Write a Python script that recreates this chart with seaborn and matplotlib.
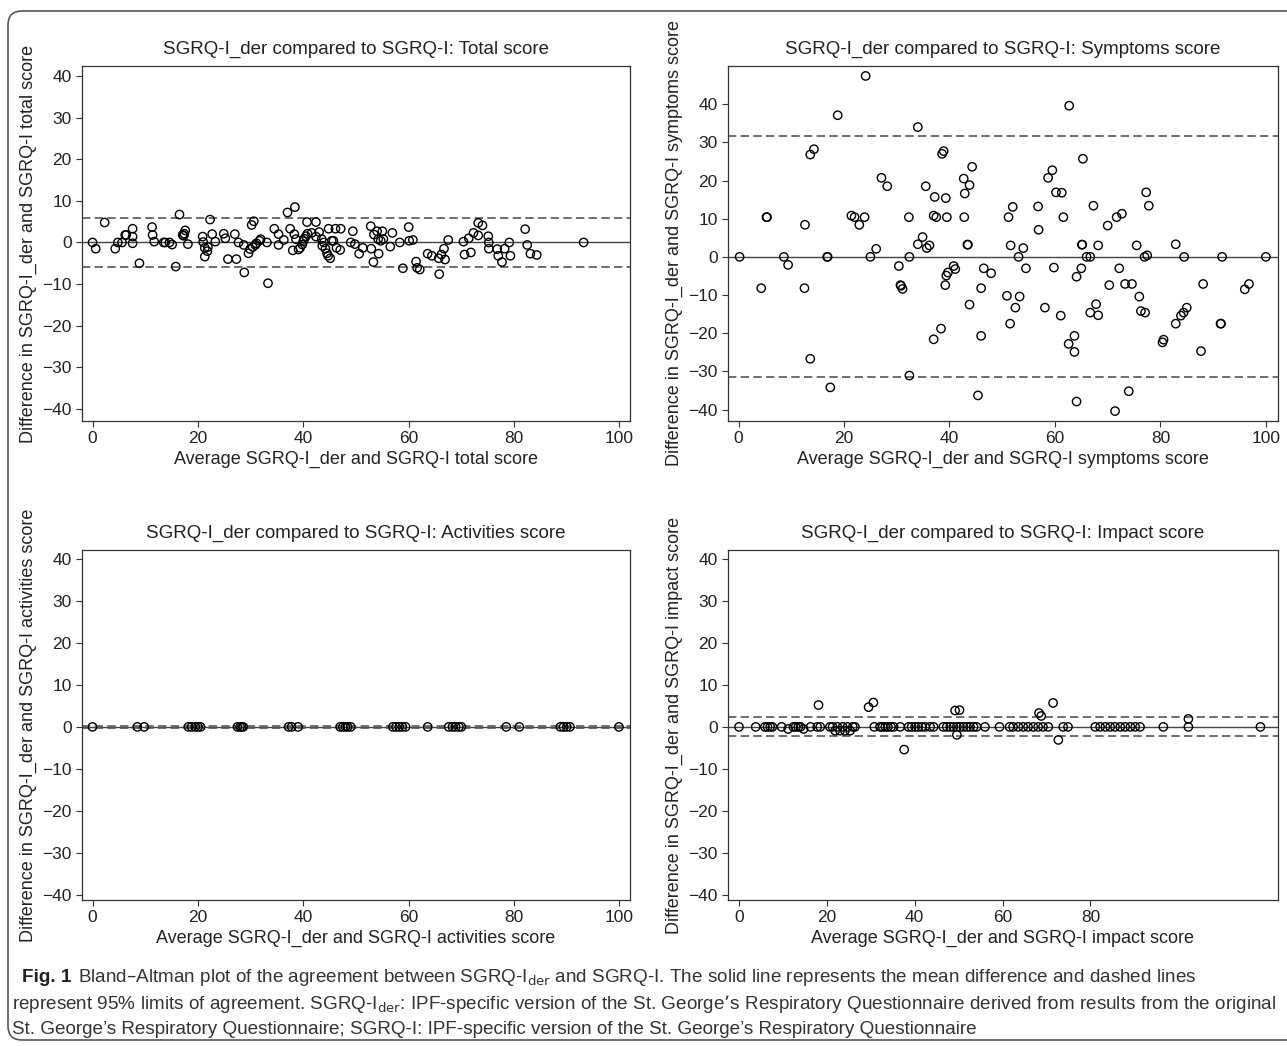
import numpy as np
import pandas as pd
import seaborn as sns
import matplotlib
matplotlib.use("Agg")
import matplotlib.pyplot as plt
from matplotlib.patches import FancyBboxPatch
from matplotlib.transforms import IdentityTransform

# ---------------- data ----------------
total_x = [0.0, 0.6, 2.3, 4.3, 4.8, 5.6, 6.2, 6.4, 7.6, 7.6, 7.6, 8.9, 11.3, 11.4, 11.7,
           13.5, 13.8, 14.6, 15.1, 15.8, 16.5, 17.1, 17.4, 17.6, 17.3, 18.1, 20.9, 21.0,
           21.3, 21.9, 21.8, 21.3, 22.3, 22.7, 23.3, 24.9, 25.2, 25.7, 27.0, 27.3, 27.7,
           28.7, 28.8, 29.6, 29.9, 30.4, 30.9, 31.1, 31.7, 31.9, 30.2, 30.6, 33.1, 33.3,
           34.5, 35.3, 35.3, 36.3, 37.0, 38.4, 37.5, 38.0, 38.3, 38.6, 39.1, 39.4, 39.8,
           40.0, 40.2, 40.5, 40.8, 40.7, 41.6, 42.4, 42.4, 43.0, 43.5, 43.6, 43.9, 44.2,
           44.5, 44.7, 44.8, 45.1, 45.4, 45.7, 46.1, 46.3, 47.0, 47.1,
           49.0, 49.4, 49.8, 50.6, 51.3, 52.8, 52.9, 53.3, 53.4, 54.0, 54.2, 54.3, 54.7,
           55.0, 55.2, 56.5, 56.9, 58.3, 58.9, 60.0, 60.1, 60.8, 61.4, 61.6, 62.1, 63.6,
           64.4, 65.7, 65.8, 66.2, 66.7, 66.9, 67.5, 70.4, 70.6, 71.4, 71.8, 72.3, 73.2,
           73.2, 74.0, 75.1, 75.2, 75.2, 76.8, 77.0, 77.7, 78.2, 79.1, 79.3, 82.1, 82.5,
           83.1, 84.3, 93.2]
total_y = [0.0, -1.5, 4.8, -1.5, 0.0, 0.0, 1.8, 1.8, 3.3, 1.4, -0.2, -5.0, 3.7, 1.8, 0.2,
           0.0, 0.0, 0.0, -0.5, -5.8, 6.7, 1.8, 2.1, 2.9, 1.6, -0.4, 1.4, 0.1,
           -1.3, -1.1, -2.1, -3.4, 5.5, 2.0, 0.2, 2.1, 1.0, -4.0, 2.0, -4.0, 0.0,
           -0.6, -7.2, -2.6, -1.6, -1.1, -0.6, -0.2, 0.4, 0.8, 4.2, 5.1, 0.0, -9.8,
           3.3, 2.0, -0.6, 0.6, 7.2, 8.5, 3.3, -1.9, 2.0, 0.8, -1.7, -1.3, -0.5,
           0.3, 0.9, 1.5, 2.1, 4.9, 2.3, 1.4, 4.9, 2.5, 0.8, -0.8, 0.0, -1.5,
           -2.6, -3.2, 3.3, -3.8, 0.4, 0.4, 3.3, -1.3, -1.8, 3.3,
           0.0, 2.7, -0.4, -2.7, -1.3, 3.9, -1.5, -4.7, 1.9, 2.7, 0.8, -2.7, 0.4,
           2.7, 0.8, -1.0, 2.3, 0.0, -6.2, 3.7, 0.4, 0.6, -4.6, -6.1, -6.5, -2.7,
           -3.2, -3.8, -7.6, -2.9, -1.5, -4.1, 0.6, 0.2, -2.9, 1.0, -2.4, 2.3, 4.7,
           1.7, 4.1, 1.5, 0.0, -1.5, -1.6, -3.2, -4.7, -1.5, 0.0, -3.2, 3.2, -0.6,
           -2.7, -3.0, 0.0]

symptoms_x = [24.1, 18.8, 34.0, 14.3, 13.6, 38.9, 38.6, 44.3, 27.1, 28.2, 35.5, 42.7, 43.8,
              42.9, 37.2, 39.3, 5.3, 5.4, 12.6, 21.4, 22.0, 23.9, 22.9, 32.3, 37.0, 37.5,
              39.5, 42.8, 34.9, 34.0, 36.2, 35.7, 43.4, 43.5, 26.1,
              62.7, 65.3, 59.5, 58.7, 60.2, 61.3, 77.3, 77.8, 52.0, 51.2, 56.8, 61.6, 67.3,
              72.7, 71.7, 70.0, 56.9, 51.6, 54.0, 65.1, 65.2, 68.2, 75.5, 82.9,
              0.2, 8.6, 9.4, 16.8, 16.9, 25.0, 30.4, 32.4, 4.3, 12.5, 30.7, 30.8, 31.1,
              40.8, 41.1, 39.7, 39.4, 39.2, 46.5, 47.9, 46.0, 43.8, 38.4, 37.0, 46.0,
              13.6, 32.4, 17.4, 45.4,
              53.1, 66.0, 66.7, 77.0, 77.5, 84.5, 91.7, 100.0, 54.5, 59.8, 65.0, 64.1,
              72.2, 70.3, 73.3, 74.6, 88.1, 96.0, 96.8, 50.9, 53.3, 52.5, 58.1, 61.1,
              67.8, 66.7, 68.2, 76.0, 76.3, 77.1, 85.0, 84.4, 83.9, 82.9, 91.4, 91.5,
              51.5, 63.7, 62.6, 63.7, 80.6, 80.4, 87.7, 74.0, 64.1, 71.4]
symptoms_y = [47.4, 37.1, 34.0, 28.2, 26.8, 27.7, 27.0, 23.6, 20.7, 18.5, 18.5, 20.5, 18.8,
              16.6, 15.7, 15.4, 10.4, 10.4, 8.4, 10.8, 10.4, 10.4, 8.4, 10.4, 10.8, 10.4,
              10.4, 10.4, 5.2, 3.3, 3.0, 2.3, 3.2, 3.2, 2.1,
              39.6, 25.7, 22.7, 20.7, 16.9, 16.8, 16.9, 13.4, 13.1, 10.4, 13.2, 10.4, 13.4,
              11.3, 10.4, 8.2, 7.1, 3.0, 2.3, 3.2, 3.2, 3.0, 3.0, 3.3,
              0.0, 0.0, -2.1, 0.0, 0.0, 0.0, -2.4, 0.0, -8.2, -8.2, -7.4, -7.6, -8.4,
              -2.4, -3.2, -4.1, -4.9, -7.4, -3.0, -4.3, -8.2, -12.5, -18.8, -21.6, -20.7,
              -26.7, -31.1, -34.2, -36.3,
              0.0, 0.0, 0.0, 0.0, 0.4, 0.0, 0.0, 0.0, -3.0, -2.8, -3.0, -5.2,
              -3.0, -7.4, -7.1, -7.1, -7.1, -8.5, -7.1, -10.2, -10.4, -13.3, -13.3, -15.4,
              -12.4, -14.6, -15.3, -10.4, -14.2, -14.6, -13.3, -14.6, -15.4, -17.5, -17.5, -17.5,
              -17.5, -20.7, -22.8, -24.9, -21.7, -22.4, -24.7, -35.2, -37.9, -40.4]

activities_x = [0.0, 8.5, 9.8, 18.2, 18.8, 19.5, 20.0, 20.5, 27.5, 28.0, 28.3, 28.6,
                37.2, 37.8, 39.0, 47.0, 47.5, 48.0, 48.4, 49.0, 57.0, 57.6, 58.2, 58.8,
                59.4, 63.6, 67.6, 68.3, 68.9, 69.5, 70.0, 78.5, 81.0, 88.8, 89.4, 90.0,
                90.6, 99.9]
activities_y = [0.0] * len(activities_x)

impact_x = [0.0, 3.8, 5.9, 6.5, 7.1, 7.6, 9.7, 12.4, 12.9, 13.5, 14.0, 16.3, 17.8, 18.5,
            20.7, 21.3, 22.4, 23.6, 24.7, 25.9, 26.4, 30.8, 32.1, 32.7, 33.3, 33.9, 34.6,
            35.2, 36.7, 38.6, 39.3, 40.1, 40.8, 41.6, 42.4, 43.5, 44.3, 46.5, 47.3, 48.1,
            48.8, 49.6, 50.3, 51.1, 51.9, 52.6, 53.4, 54.1, 56.0, 59.3, 61.6, 62.4, 63.6,
            64.7, 65.8, 67.0, 68.1, 69.2, 70.4, 73.8, 74.9, 81.1, 82.2, 83.4, 84.5, 85.6,
            86.8, 87.9, 89.1, 90.2, 91.3, 96.6, 102.3, 118.7,
            11.2, 14.7, 21.9, 23.0, 24.1, 25.3,
            18.1, 29.5, 30.6, 49.2, 50.2, 71.5, 68.3, 68.8, 102.3,
            49.6, 37.6, 72.7]
impact_y = [0.0] * 74 + [-0.5, -0.5, -0.9, -0.9, -0.9, -0.9,
                         5.2, 4.7, 5.8, 3.9, 4.0, 5.7, 3.3, 2.6, 1.9,
                         -1.9, -5.4, -3.1]

titles = ["SGRQ-I_der compared to SGRQ-I: Total score",
          "SGRQ-I_der compared to SGRQ-I: Symptoms score",
          "SGRQ-I_der compared to SGRQ-I: Activities score",
          "SGRQ-I_der compared to SGRQ-I: Impact score"]
score_names = ["total", "symptoms", "activities", "impact"]
mean_diff = [0.0, 0.0, 0.0, 0.0]
loa_upper = [5.9, 31.6, 0.15, 2.4]
loa_lower = [-5.8, -31.6, -0.15, -2.1]
y_ticks = [-40, -30, -20, -10, 0, 10, 20, 30, 40]
x_ticks = [[0, 20, 40, 60, 80, 100], [0, 20, 40, 60, 80, 100],
           [0, 20, 40, 60, 80, 100], [0, 20, 40, 60, 80]]
x_lims = [(-2, 102), (-2, 102.3), (-2, 102), (-2.5, 122.7)]
y_lims = [(-42.9, 42.4), (-43, 50), (-41.2, 42.1), (-41.2, 42.1)]

# ---------------- style ----------------
sns.set_theme(style="ticks")
plt.rcParams["font.family"] = ["Liberation Sans", "DejaVu Sans"]
plt.rcParams["axes.edgecolor"] = "#333333"
plt.rcParams["axes.linewidth"] = 0.9
plt.rcParams["xtick.color"] = "#333333"
plt.rcParams["ytick.color"] = "#333333"
plt.rcParams["xtick.labelcolor"] = "#222222"
plt.rcParams["ytick.labelcolor"] = "#222222"

fig = plt.figure(figsize=(12.87, 10.46), dpi=100)
W, H = 1287.0, 1046.0
boxes = [(82, 66, 630, 421), (728, 66, 1278, 421),
         (82, 550, 630, 900), (728, 550, 1278, 900)]

xs = [total_x, symptoms_x, activities_x, impact_x]
ys = [total_y, symptoms_y, activities_y, impact_y]

for i in range(4):
    l, t, r, b = boxes[i]
    ax = fig.add_axes([l / W, 1 - b / H, (r - l) / W, (b - t) / H])
    df = pd.DataFrame({"avg": xs[i], "diff": ys[i]})
    ax.axhline(mean_diff[i], color="#444444", lw=1.0, zorder=1)
    ax.axhline(loa_upper[i], color="#555555", lw=1.2, ls=(0, (5, 2.6)), zorder=1)
    ax.axhline(loa_lower[i], color="#555555", lw=1.2, ls=(0, (5, 2.6)), zorder=1)
    sns.scatterplot(data=df, x="avg", y="diff", ax=ax, marker="o", s=36,
                    facecolor="none", edgecolor="black", linewidth=1.0,
                    legend=False, zorder=3)
    ax.set_xlim(*x_lims[i])
    ax.set_ylim(*y_lims[i])
    ax.set_xticks(x_ticks[i])
    ax.set_yticks(y_ticks)
    ax.tick_params(axis="both", direction="out", length=4.5, width=0.8,
                   labelsize=12.5, pad=3)
    for sp in ax.spines.values():
        sp.set_visible(True)
    ax.set_title(titles[i], fontsize=13.5, color="#222222", pad=9)
    ax.set_xlabel(f"Average SGRQ-I_der and SGRQ-I {score_names[i]} score",
                  fontsize=13, color="#222222", labelpad=3)
    ax.set_ylabel(f"Difference in SGRQ-I_der and SGRQ-I {score_names[i]} score",
                  fontsize=13, color="#222222", labelpad=4)
    ax.grid(False)

# outer rounded frame
frame = FancyBboxPatch((8, 6), 1320, 1029, boxstyle="round,pad=0,rounding_size=14",
                       transform=IdentityTransform(), fill=False,
                       edgecolor="#555555", lw=1.2)
fig.patches.append(frame)

cap_font = ["Liberation Sans", "DejaVu Sans"]
cap_col = "#333333"
cap_size = 13.6
fig.text(22 / W, 1 - 977 / H, "Fig. 1", fontsize=cap_size, fontweight="bold",
         family=cap_font, color="#222222", va="center")
fig.text(78 / W, 1 - 977 / H,
         "Bland\u2013Altman plot of the agreement between SGRQ-I$_{\\mathrm{der}}$ and SGRQ-I. "
         "The solid line represents the mean difference and dashed lines",
         fontsize=cap_size, family=cap_font, color=cap_col, va="center")
fig.text(12 / W, 1 - 1004 / H,
         "represent 95% limits of agreement. SGRQ-I$_{\\mathrm{der}}$: IPF-specific version of the "
         "St. George\u2019s Respiratory Questionnaire derived from results from the original",
         fontsize=cap_size, family=cap_font, color=cap_col, va="center")
fig.text(12 / W, 1 - 1029 / H,
         "St. George\u2019s Respiratory Questionnaire; SGRQ-I: IPF-specific version of the "
         "St. George\u2019s Respiratory Questionnaire",
         fontsize=cap_size, family=cap_font, color=cap_col, va="center")

fig.savefig("out.png", dpi=100)
